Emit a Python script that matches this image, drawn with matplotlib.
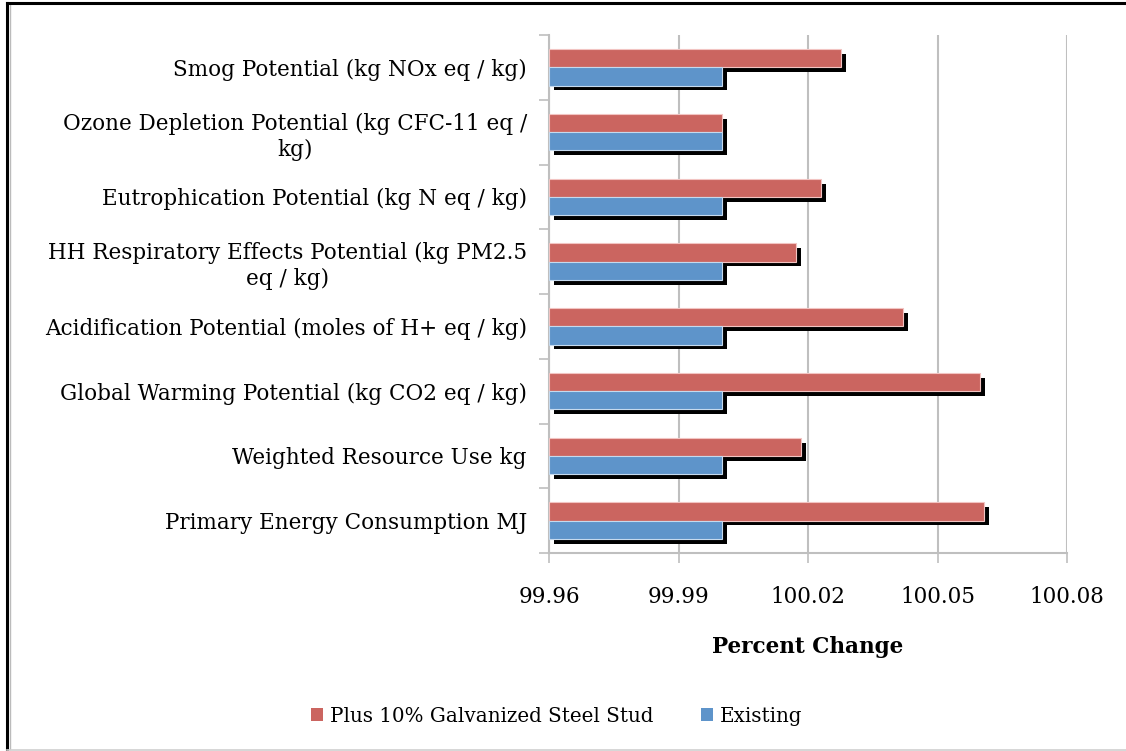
import matplotlib.pyplot as plt
import matplotlib.patheffects as pe
from matplotlib.patches import Patch
from matplotlib.lines import Line2D
import numpy as np

categories = [
    "Smog Potential (kg NOx eq / kg)",
    "Ozone Depletion Potential (kg CFC-11 eq /\nkg)",
    "Eutrophication Potential (kg N eq / kg)",
    "HH Respiratory Effects Potential (kg PM2.5\neq / kg)",
    "Acidification Potential (moles of H+ eq / kg)",
    "Global Warming Potential (kg CO2 eq / kg)",
    "Weighted Resource Use kg",
    "Primary Energy Consumption MJ",
]
plus_steel = [100.0276, 100.0, 100.023, 100.0172, 100.042, 100.0598, 100.0184, 100.0608]
existing = [100.0, 100.0, 100.0, 100.0, 100.0, 100.0, 100.0, 100.0]
x_ticks = [99.96, 99.99, 100.02, 100.05, 100.08]
x_tick_labels = ["99.96", "99.99", "100.02", "100.05", "100.08"]
legend_labels = ["Plus 10% Galvanized Steel Stud", "Existing"]

plt.rcParams['font.family'] = ['DejaVu Serif']

red = "#CB6560"
blue = "#5E94CA"
grid_col = "#BFBFBF"
fs = 15.5

fig = plt.figure(figsize=(11.26, 7.51), dpi=100)
ax = fig.add_axes([549 / 1126, 1 - 553 / 751, (1067 - 549) / 1126, (553 - 35) / 751])

n = len(categories)
y = np.arange(n)[::-1].astype(float)
h = 0.28
left = x_ticks[0]

shadow = [pe.SimplePatchShadow(offset=(3.5, -3.5), shadow_rgbFace="black", alpha=1.0), pe.Normal()]

for i in range(n):
    r = ax.barh(y[i] + h / 2, plus_steel[i] - left, left=left, height=h,
                color=red, edgecolor="#F2C4C2", linewidth=0.8, zorder=3)
    for p in r:
        p.set_path_effects(shadow)
    b = ax.barh(y[i] - h / 2, existing[i] - left, left=left, height=h,
                color=blue, edgecolor="#C6DAEE", linewidth=0.8, zorder=4)
    for p in b:
        p.set_path_effects(shadow)

ax.set_xlim(x_ticks[0], x_ticks[-1])
ax.set_ylim(-0.5, n - 0.5)
ax.set_xticks(x_ticks)
ax.set_xticklabels(x_tick_labels, fontsize=fs)
ax.set_yticks(y)
ax.set_yticklabels(categories, fontsize=fs, multialignment="center", linespacing=1.25)
ax.set_yticks(np.arange(n + 1) - 0.5, minor=True)
ax.tick_params(axis="y", which="major", length=0, pad=16)
ax.tick_params(axis="y", which="minor", length=7, color=grid_col, width=1.2)
ax.tick_params(axis="x", length=7, color=grid_col, width=1.2, pad=17)

ax.grid(axis="x", color=grid_col, linewidth=1.5, zorder=0)
ax.set_axisbelow(True)
for s in ["top", "right"]:
    ax.spines[s].set_visible(False)
for s in ["left", "bottom"]:
    ax.spines[s].set_color(grid_col)
    ax.spines[s].set_linewidth(1.5)

ax.set_xlabel("Percent Change", fontsize=fs, fontweight="bold", labelpad=20)

handles = [Patch(facecolor=red, edgecolor="none"), Patch(facecolor=blue, edgecolor="none")]
fig.legend(handles, legend_labels, loc="center",
           bbox_to_anchor=(557 / 1126, 1 - 716 / 751), ncol=2, frameon=False,
           fontsize=14.3, handlelength=0.6, handleheight=0.6, handletextpad=0.35,
           columnspacing=2.4)

# outer frame: dark top and left edges, light bottom edge
W, H = 1126, 751
fig.add_artist(Line2D([7 / W, 7 / W], [2 / H, 1 - 3 / H], transform=fig.transFigure,
                      color="black", linewidth=2.2))
fig.add_artist(Line2D([9.5 / W, 9.5 / W], [2 / H, 1 - 5 / H], transform=fig.transFigure,
                      color="#BBBBBB", linewidth=1.0))
fig.add_artist(Line2D([7 / W, 1.0], [1 - 3 / H, 1 - 3 / H], transform=fig.transFigure,
                      color="black", linewidth=2.2))
fig.add_artist(Line2D([7 / W, 1.0], [1.5 / H, 1.5 / H], transform=fig.transFigure,
                      color="#D0D0D0", linewidth=1.2))

fig.savefig("out.png", dpi=100, facecolor="white")
